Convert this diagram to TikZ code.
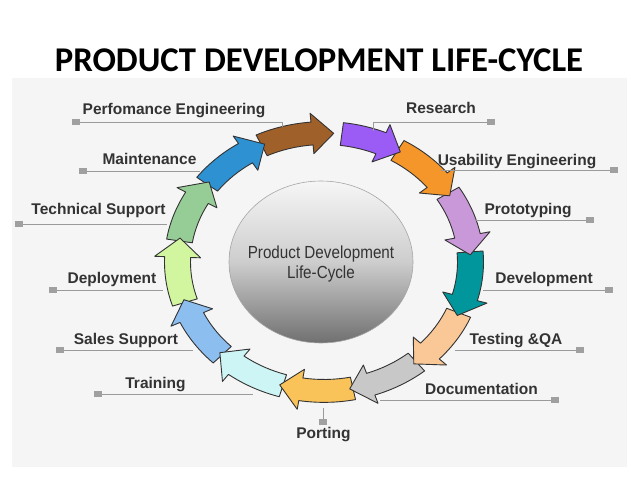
\documentclass[tikz,border=0pt]{standalone}
\usepackage{fontspec}
\setmainfont{Liberation Sans}
\newfontfamily\titlefont{Carlito}
\newfontfamily\centerfont[FakeStretch=0.87]{Liberation Sans}
\definecolor{panel}{HTML}{F5F5F5}
\definecolor{labelgray}{HTML}{333333}
\definecolor{linegray}{HTML}{9A9A9A}
\definecolor{sqgray}{HTML}{A0A0A0}
\definecolor{cResearch}{HTML}{9A5CF5}
\definecolor{cUsab}{HTML}{F5962A}
\definecolor{cProto}{HTML}{C898D8}
\definecolor{cDev}{HTML}{00969B}
\definecolor{cTest}{HTML}{F9C896}
\definecolor{cDoc}{HTML}{C8C8C8}
\definecolor{cPort}{HTML}{F9C35A}
\definecolor{cTrain}{HTML}{CDF5F5}
\definecolor{cSales}{HTML}{8CBEF0}
\definecolor{cDeploy}{HTML}{D2F5A0}
\definecolor{cTech}{HTML}{96CD96}
\definecolor{cMaint}{HTML}{2D91D2}
\definecolor{cPerf}{HTML}{A0602A}
\definecolor{circtop}{HTML}{F6F6F6}
\definecolor{circmid}{HTML}{CDCDCD}
\definecolor{circbot}{HTML}{707070}
\newcommand\ringarrow[4]{% tail angle, tip angle, colour, name
  \pgfmathsetmacro\raTail{#1}%
  \pgfmathsetmacro\raTip{#2}%
  \pgfmathsetmacro\raHead{#2+8.5}%
  \draw[arrowbody, fill=#3] (\raTail:159.5) arc[start angle=\raTail, end angle=\raHead, radius=159.5]
    -- (\raHead:169.5) -- (\raTip:146.5) -- (\raHead:123.5) -- (\raHead:133.5)
    arc[start angle=\raHead, end angle=\raTail, radius=133.5] -- cycle;
}
\begin{document}
\begin{tikzpicture}[x=1pt,y=-1pt,
  lbl/.style={anchor=base, font=\bfseries\fontsize{15.5}{18}\selectfont, text=labelgray, inner sep=0pt},
  sq/.style={fill=sqgray, minimum width=8pt, minimum height=6pt, inner sep=0pt, outer sep=0pt},
  conn/.style={draw=linegray, line width=1pt},
  arrowbody/.style={draw=labelgray, line width=0.9pt, line join=round}]
\useasboundingbox (0,0) rectangle (638,479);
\fill[white] (0,0) rectangle (638,479);
\fill[panel] (12,78) rectangle (627,467);
% title
\node[anchor=base, inner sep=0pt, font=\titlefont\bfseries\fontsize{34.7}{40}\selectfont] (title) at (319,71) {PRODUCT DEVELOPMENT LIFE-CYCLE};
% centre circle
\shade[top color=circtop, bottom color=circbot, middle color=circmid] (321,262) ellipse [x radius=92, y radius=81];
\draw[gray!70, line width=0.6pt] (321,262) ellipse [x radius=92, y radius=81];
\node[align=center, text=labelgray, font=\centerfont\fontsize{17.5}{20}\selectfont, inner sep=0pt] (core) at (321,264) {Product Development\\Life-Cycle};
% ring of arrows (drawn from last to first)
\begin{scope}[shift={(324,262)}, yscale=-0.88]
  \ringarrow{115.2}{86.2}{cPerf}{aPerf}
  \ringarrow{142.9}{113.9}{cMaint}{aMaint}
  \ringarrow{170.6}{141.6}{cTech}{aTech}
  \ringarrow{-161.7}{-190.7}{cDeploy}{aDeploy}
  \ringarrow{-134}{-163}{cSales}{aSales}
  \ringarrow{-106.3}{-135.3}{cTrain}{aTrain}
  \ringarrow{-78.6}{-107.6}{cPort}{aPort}
  \ringarrow{-50.9}{-79.9}{cDoc}{aDoc}
  \ringarrow{-23.2}{-52.2}{cTest}{aTest}
  \ringarrow{4.5}{-24.5}{cDev}{aDev}
  \ringarrow{32.2}{3.2}{cProto}{aProto}
  \ringarrow{59.9}{30.9}{cUsab}{aUsab}
  \ringarrow{83}{58.6}{cResearch}{aResearch}
\end{scope}
% label connectors
\coordinate (e1) at (373,131);  \coordinate (k1) at (373,122);
\coordinate (e2) at (441,170);
\coordinate (e3) at (475,220);
\coordinate (e4) at (483,290);
\coordinate (e5) at (455,350);
\coordinate (e6) at (380,400);
\coordinate (e7) at (323,408);
\coordinate (e8) at (253,394);
\coordinate (e9) at (193,350);
\coordinate (e10) at (163,290);
\coordinate (e11) at (167,224);
\coordinate (e12) at (200,171);
\coordinate (e13) at (282,127); \coordinate (k13) at (282,122);
\node[sq] (s1) at (491,122) {};
\node[sq] (s2) at (614,170) {};
\node[sq] (s3) at (590,220) {};
\node[sq] (s4) at (609,290) {};
\node[sq] (s5) at (580,350) {};
\node[sq] (s6) at (555,400) {};
\node[sq] (s7) at (323,422) {};
\node[sq] (s8) at (98,394) {};
\node[sq] (s9) at (60,350) {};
\node[sq] (s10) at (53,290) {};
\node[sq] (s11) at (19,224) {};
\node[sq] (s12) at (83,171) {};
\node[sq] (s13) at (76,122) {};
\draw[conn] (s1) -- (k1) -- (e1);
\draw[conn] (s2) -- (e2);
\draw[conn] (s3) -- (e3);
\draw[conn] (s4) -- (e4);
\draw[conn] (s5) -- (e5);
\draw[conn] (s6) -- (e6);
\draw[conn] (s7) -- (e7);
\draw[conn] (s8) -- (e8);
\draw[conn] (s9) -- (e9);
\draw[conn] (s10) -- (e10);
\draw[conn] (s11) -- (e11);
\draw[conn] (s12) -- (e12);
\draw[conn] (s13) -- (k13) -- (e13);
% labels
\node[lbl] (t1) at (441,113) {Research};
\node[lbl] (t2) at (517,165) {Usability Engineering};
\node[lbl] (t3) at (528,214) {Prototyping};
\node[lbl] (t4) at (544,283) {Development};
\node[lbl] (t5) at (516,344) {Testing \&QA};
\node[lbl] (t6) at (481.5,394) {Documentation};
\node[lbl] (t7) at (323.5,438) {Porting};
\node[lbl] (t8) at (155.5,388) {Training};
\node[lbl] (t9) at (126,344) {Sales Support};
\node[lbl] (t10) at (112,283) {Deployment};
\node[lbl] (t11) at (98.5,214) {Technical Support};
\node[lbl] (t12) at (149.5,164) {Maintenance};
\node[lbl] (t13) at (174,114) {Perfomance Engineering};
\end{tikzpicture}
\end{document}
